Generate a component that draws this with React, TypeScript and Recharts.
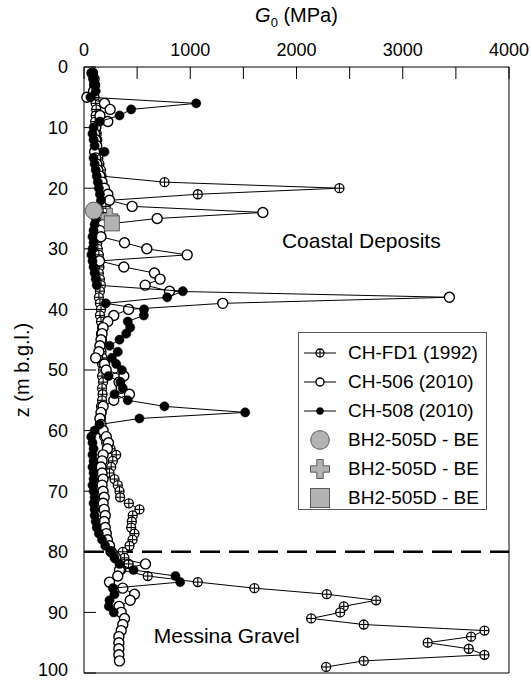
import { ScatterChart, Scatter, XAxis, YAxis, ReferenceLine, ReferenceDot } from "recharts";

const FONT = '"Liberation Sans", Arial, Helvetica, sans-serif';

// axis ticks
const G_TICKS = [0, 500, 1000, 1500, 2000, 2500, 3000, 3500, 4000];
const Z_TICKS = [0, 10, 20, 30, 40, 50, 60, 70, 80, 90, 100];

// CH-FD1 (1992)
const FD1_DEPTH = [
  1, 2, 3, 4, 5, 6, 7, 8, 9, 10, 11, 12, 13, 14, 15, 16, 17, 18, 19, 20,
  21, 22, 23, 24, 25, 26, 27, 28, 29, 30, 31, 32, 33, 34, 35, 36, 37, 38, 39, 40,
  41, 42, 43, 44, 45, 46, 47, 48, 49, 50, 51, 52, 53, 54, 55, 56, 57, 58, 59, 60,
  61, 62, 63, 64, 65, 66, 67, 68, 69, 70, 71, 72, 73, 74, 75, 76, 77, 78, 79, 80,
  81, 82, 83, 84, 85, 86, 87, 88, 89, 90, 91, 92, 93, 94, 95, 96, 97, 98, 99,
];
const FD1_G = [
  70, 90, 100, 95, 100, 110, 115, 110, 105, 115,
  120, 125, 120, 130, 135, 145, 160, 165, 758, 2404,
  1071, 240, 205, 180, 165, 150, 130, 140, 125, 130,
  140, 130, 145, 140, 150, 160, 150, 140, 150, 160,
  150, 160, 170, 160, 170, 160, 165, 175, 170, 180,
  170, 180, 170, 175, 170, 160, 165, 160, 150, 170,
  190, 209, 250, 303, 271, 256, 240, 287, 318, 334,
  340, 422, 522, 459, 450, 444, 475, 457, 428, 365,
  380, 420, 350, 600, 1071, 1604, 2285, 2749, 2445, 2411,
  2138, 2633, 3769, 3643, 3235, 3621, 3769, 2633, 2279,
];

// CH-506 (2010)
const C506_DEPTH = [
  1, 2, 3, 4, 5, 6, 7, 8, 9, 10, 11, 12, 13, 14, 15, 16, 17, 18, 19, 20,
  21, 22, 23, 24, 25, 26, 27, 28, 29, 30, 31, 32, 33, 34, 35, 36, 37, 38, 39, 40,
  41, 42, 43, 44, 45, 46, 47, 48, 49, 50, 51, 52, 53, 54, 55, 56, 57, 58, 59, 60,
  61, 62, 63, 64, 65, 66, 67, 68, 69, 70, 71, 72, 73, 74, 75, 76, 77, 78, 79, 80,
  81, 82, 83, 84, 85, 86, 87, 88, 89, 90, 91, 92, 93, 94, 95, 96, 97, 98,
];
const C506_G = [
  80, 95, 100, 90, 27, 193, 246, 150, 224, 110,
  100, 110, 120, 100, 110, 120, 130, 150, 170, 193,
  224, 240, 453, 1683, 689, 177, 150, 160, 381, 591,
  971, 146, 375, 663, 716, 576, 805, 3439, 1306, 419,
  280, 224, 180, 170, 160, 150, 140, 110, 193, 209,
  375, 330, 350, 428, 280, 180, 160, 150, 160, 180,
  210, 230, 220, 180, 170, 160, 170, 180, 170, 180,
  190, 180, 190, 200, 190, 200, 210, 220, 240, 256,
  300, 579, 334, 318, 240, 365, 475, 435, 330, 350,
  381, 365, 350, 328, 328, 328, 328, 334,
];

// CH-508 (2010)
const C508_DEPTH = [
  1, 2, 3, 4, 5, 6, 7, 8, 9, 10, 11, 12, 13, 14, 15, 16, 17, 18, 19, 20,
  21, 22, 23, 24, 25, 26, 27, 28, 29, 30, 31, 32, 33, 34, 35, 36, 37, 38, 39, 40,
  41, 42, 43, 44, 45, 46, 47, 48, 49, 50, 51, 52, 53, 54, 55, 56, 57, 58, 59, 60,
  61, 62, 63, 64, 65, 66, 67, 68, 69, 70, 71, 72, 73, 74, 75, 76, 77, 78, 79, 80,
  81, 82, 83, 84, 85, 86, 87, 88, 89, 90,
];
const C508_G = [
  80, 90, 100, 110, 60, 1056, 444, 334, 150, 90,
  80, 90, 100, 193, 90, 100, 110, 120, 130, 140,
  150, 160, 130, 120, 110, 100, 90, 80, 90, 80,
  70, 80, 90, 100, 110, 120, 930, 783, 205, 565,
  563, 412, 435, 397, 334, 240, 318, 262, 303, 356,
  231, 343, 365, 287, 412, 757, 1517, 522, 146, 100,
  68, 80, 90, 80, 90, 80, 90, 90, 80, 90,
  100, 90, 100, 100, 110, 120, 140, 170, 200, 250,
  287, 334, 466, 861, 905, 271, 287, 240, 234, 280,
];

// BH2-505D - BE (single points)
const BE_CIRCLE = [{ g: 92, z: 23.7 }];
const BE_PLUS = [{ g: 240, z: 24.7 }];
const BE_SQUARE = [{ g: 262, z: 25.8 }];

const LEGEND_LABELS = [
  "CH-FD1 (1992)",
  "CH-506 (2010)",
  "CH-508 (2010)",
  "BH2-505D - BE",
  "BH2-505D - BE",
  "BH2-505D - BE",
];

const zip = (zs: number[], gs: number[]) => zs.map((z, i) => ({ z, g: gs[i] }));

const fd1Data = zip(FD1_DEPTH, FD1_G);
const c506Data = zip(C506_DEPTH, C506_G);
const c508Data = zip(C508_DEPTH, C508_G);

const GRAY = "#b3b3b3";
const GRAY_EDGE = "#5a5a5a";

function CrossCircle({ cx, cy, r = 4.5 }: any) {
  return (
    <g>
      <circle cx={cx} cy={cy} r={r} fill="#fff" stroke="#000" strokeWidth={1.3} />
      <line x1={cx - r} y1={cy} x2={cx + r} y2={cy} stroke="#000" strokeWidth={1.1} />
      <line x1={cx} y1={cy - r} x2={cx} y2={cy + r} stroke="#000" strokeWidth={1.1} />
    </g>
  );
}

function OpenCircle({ cx, cy, r = 5 }: any) {
  return <circle cx={cx} cy={cy} r={r} fill="#fff" stroke="#000" strokeWidth={1.4} />;
}

function FilledCircle({ cx, cy, r = 4.6 }: any) {
  return <circle cx={cx} cy={cy} r={r} fill="#000" stroke="#000" strokeWidth={0.5} />;
}

function GrayCircle({ cx, cy, r = 8.5 }: any) {
  return <circle cx={cx} cy={cy} r={r} fill={GRAY} stroke={GRAY_EDGE} strokeWidth={1} />;
}

function GrayPlus({ cx, cy, s = 17 }: any) {
  const h = s / 2;
  const a = s / 6;
  const pts = [
    [-a, -h], [a, -h], [a, -a], [h, -a], [h, a], [a, a],
    [a, h], [-a, h], [-a, a], [-h, a], [-h, -a], [-a, -a],
  ]
    .map(([x, y]) => `${cx + x},${cy + y}`)
    .join(" ");
  return <polygon points={pts} fill={GRAY} stroke={GRAY_EDGE} strokeWidth={1} />;
}

function GraySquare({ cx, cy, s = 15 }: any) {
  return (
    <rect x={cx - s / 2} y={cy - s / 2} width={s} height={s} fill={GRAY} stroke={GRAY_EDGE} strokeWidth={1} />
  );
}

function TopTitle(props: any) {
  const vb = props.viewBox || {};
  const cx = (vb.x ?? 84) + (vb.width ?? 425) / 2;
  return (
    <text x={cx} y={22} textAnchor="middle" fontSize={20} fontFamily={FONT} fill="#000">
      <tspan fontStyle="italic">G</tspan>
      <tspan fontSize={13} dy={5}>0</tspan>
      <tspan dy={-5}> (MPa)</tspan>
    </text>
  );
}

function SideTitle(props: any) {
  const vb = props.viewBox || {};
  const cy = (vb.y ?? 67) + (vb.height ?? 606) / 2;
  return (
    <text
      x={22}
      y={cy}
      textAnchor="middle"
      dominantBaseline="central"
      fontSize={20}
      fontFamily={FONT}
      fill="#000"
      transform={`rotate(-90 22 ${cy})`}
    >
      z (m b.g.l.)
    </text>
  );
}

// depth tick labels, kept inside the picture at the bottom edge
function DepthTick(props: any) {
  const { x, y, payload } = props;
  return (
    <text x={x} y={Math.min(y, 670)} dy="0.355em" textAnchor="end" fontSize={18} fontFamily={FONT} fill="#000">
      {payload.value}
    </text>
  );
}

function LegendIcon({ idx }: { idx: number }) {
  return (
    <svg width={44} height={24} style={{ display: "block" }}>
      {idx < 3 && <line x1={5} y1={12} x2={37} y2={12} stroke="#000" strokeWidth={1} />}
      {idx === 0 && <CrossCircle cx={21} cy={12} r={4} />}
      {idx === 1 && <OpenCircle cx={21} cy={12} r={4} />}
      {idx === 2 && <FilledCircle cx={21} cy={12} r={3.5} />}
      {idx === 3 && <GrayCircle cx={21} cy={12} r={9.3} />}
      {idx === 4 && <GrayPlus cx={21} cy={12} s={19} />}
      {idx === 5 && <GraySquare cx={21} cy={12} s={19} />}
    </svg>
  );
}

function LegendBox() {
  return (
    <div
      style={{
        position: "absolute",
        left: 298,
        top: 332,
        width: 189,
        height: 178,
        border: "1px solid #555",
        background: "#fff",
        boxSizing: "border-box",
        paddingTop: 5,
        fontFamily: FONT,
        fontSize: 19,
        color: "#000",
      }}
    >
      {LEGEND_LABELS.map((label, i) => (
        <div key={i} style={{ display: "flex", alignItems: "center", height: 29 }}>
          <LegendIcon idx={i} />
          <span style={{ marginLeft: 5, whiteSpace: "nowrap", lineHeight: "29px" }}>{label}</span>
        </div>
      ))}
    </div>
  );
}

const tickStyle = { fontSize: 18, fill: "#000", fontFamily: FONT };
const axisStroke = { stroke: "#000", strokeWidth: 1 };

export default function App() {
  return (
    <div style={{ position: "absolute", left: 0, top: 0, width: 531, height: 681, background: "#fff" }}>
      <ScatterChart width={531} height={681} margin={{ top: 0, right: 0, bottom: 0, left: 0 }}>
        <XAxis
          dataKey="g"
          type="number"
          orientation="top"
          domain={[0, 4000]}
          ticks={G_TICKS}
          tickFormatter={(v: number) => (v % 1000 === 0 ? String(v) : "")}
          height={67}
          tickSize={-12}
          tickMargin={23}
          tick={tickStyle}
          axisLine={axisStroke}
          tickLine={axisStroke}
          interval={0}
          label={{ content: TopTitle }}
        />
        <XAxis
          xAxisId="b"
          type="number"
          orientation="bottom"
          domain={[0, 4000]}
          ticks={G_TICKS}
          height={8}
          tickSize={-12}
          tick={false}
          axisLine={axisStroke}
          tickLine={axisStroke}
          interval={0}
        />
        <YAxis
          dataKey="z"
          type="number"
          reversed
          domain={[0, 100]}
          ticks={Z_TICKS}
          width={84}
          tickSize={-12}
          tickMargin={28}
          tick={<DepthTick />}
          axisLine={axisStroke}
          tickLine={axisStroke}
          interval={0}
          label={{ content: SideTitle }}
        />
        <YAxis
          yAxisId="r"
          type="number"
          orientation="right"
          reversed
          domain={[0, 100]}
          ticks={Z_TICKS}
          width={22}
          tickSize={-12}
          tick={false}
          axisLine={axisStroke}
          tickLine={axisStroke}
          interval={0}
        />
        <ReferenceLine y={80} stroke="#000" strokeWidth={2.5} strokeDasharray="20 9" />
        <Scatter
          name="CH-FD1 (1992)"
          data={fd1Data}
          line={{ stroke: "#000", strokeWidth: 1 }}
          lineType="joint"
          shape={(p: any) => <CrossCircle cx={p.cx} cy={p.cy} />}
          isAnimationActive={false}
        />
        <Scatter
          name="CH-506 (2010)"
          data={c506Data}
          line={{ stroke: "#000", strokeWidth: 1 }}
          lineType="joint"
          shape={(p: any) => <OpenCircle cx={p.cx} cy={p.cy} />}
          isAnimationActive={false}
        />
        <Scatter
          name="CH-508 (2010)"
          data={c508Data}
          line={{ stroke: "#000", strokeWidth: 1 }}
          lineType="joint"
          shape={(p: any) => <FilledCircle cx={p.cx} cy={p.cy} />}
          isAnimationActive={false}
        />
        <Scatter
          name="BH2-505D - BE"
          data={BE_CIRCLE}
          shape={(p: any) => <GrayCircle cx={p.cx} cy={p.cy} />}
          isAnimationActive={false}
        />
        <Scatter
          name="BH2-505D - BE plus"
          data={BE_PLUS}
          shape={(p: any) => <GrayPlus cx={p.cx} cy={p.cy} />}
          isAnimationActive={false}
        />
        <Scatter
          name="BH2-505D - BE square"
          data={BE_SQUARE}
          shape={(p: any) => <GraySquare cx={p.cx} cy={p.cy} />}
          isAnimationActive={false}
        />
        <ReferenceDot
          x={2610}
          y={28.7}
          r={0}
          fill="none"
          stroke="none"
          label={{ value: "Coastal Deposits", position: "center", fontSize: 21, fill: "#000", fontFamily: FONT }}
        />
        <ReferenceDot
          x={1343}
          y={93.8}
          r={0}
          fill="none"
          stroke="none"
          label={{ value: "Messina Gravel", position: "center", fontSize: 21, fill: "#000", fontFamily: FONT }}
        />
      </ScatterChart>
      <LegendBox />
    </div>
  );
}
